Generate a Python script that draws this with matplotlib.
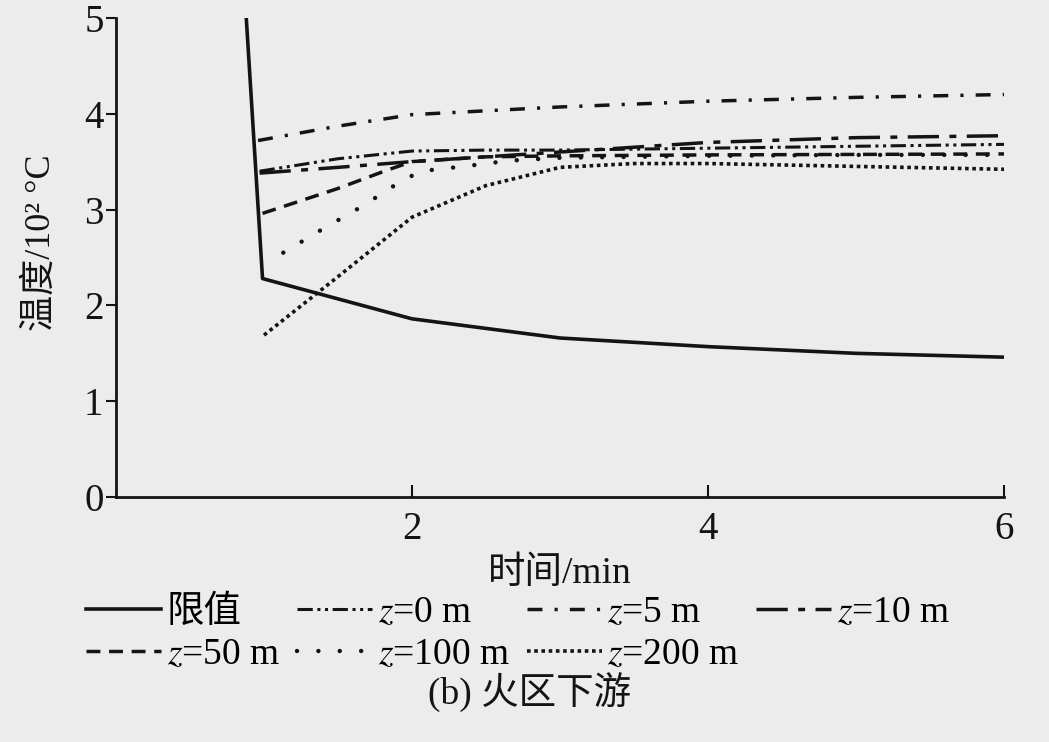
import matplotlib
matplotlib.use('Agg')
import matplotlib.pyplot as plt

plt.rcParams['font.family'] = ['Liberation Serif', 'Noto Sans CJK SC']
plt.rcParams['mathtext.fontset'] = 'stix'

# limit curve (限值)
limit_t = [0.88, 0.99, 2.0, 3.0, 4.0, 5.0, 6.0]
limit_T = [5.00, 2.28, 1.86, 1.66, 1.57, 1.50, 1.46]

# z = 0 m
z0_t = [0.97, 1.5, 2.0, 2.5, 3.0, 4.0, 5.0, 6.0]
z0_T = [3.40, 3.53, 3.61, 3.62, 3.62, 3.64, 3.66, 3.68]

# z = 5 m
z5_t = [0.96, 1.5, 2.0, 3.0, 4.0, 5.0, 6.0]
z5_T = [3.72, 3.87, 3.99, 4.07, 4.13, 4.17, 4.20]

# z = 10 m
z10_t = [0.97, 1.5, 2.0, 3.0, 4.0, 5.0, 6.0]
z10_T = [3.38, 3.44, 3.50, 3.60, 3.70, 3.75, 3.77]

# z = 50 m
z50_t = [0.99, 1.5, 1.83, 2.0, 2.5, 3.0, 4.0, 6.0]
z50_T = [2.96, 3.22, 3.41, 3.50, 3.55, 3.56, 3.57, 3.58]

# z = 100 m
z100_t = [1.13, 1.4, 1.67, 1.92, 2.06, 2.35, 2.66, 3.0, 4.0, 5.0, 6.0]
z100_T = [2.55, 2.80, 3.04, 3.29, 3.40, 3.45, 3.51, 3.54, 3.56, 3.57, 3.57]

# z = 200 m
z200_t = [1.0, 1.5, 2.0, 2.5, 3.0, 3.5, 4.0, 5.0, 6.0]
z200_T = [1.69, 2.30, 2.92, 3.25, 3.44, 3.48, 3.48, 3.45, 3.42]

ink = '#141414'
bg = '#ececec'

fig = plt.figure(figsize=(10.49, 7.42), dpi=100, facecolor=bg)
ax = fig.add_axes([0.1106, 0.330, 0.8465, 0.646])
ax.set_facecolor(bg)

h_lim, = ax.plot(limit_t, limit_T, color=ink, lw=2.6, label='限值')
h0, = ax.plot(z0_t, z0_T, color=ink, lw=2.2, dashes=(5, 1.5, 1, 1.5, 1, 1.5),
              label='$z$=0 m')
h5, = ax.plot(z5_t, z5_T, color=ink, lw=2.5, dashes=(4.3, 3.5, 0.9, 3.5),
              label='$z$=5 m')
h10, = ax.plot(z10_t, z10_T, color=ink, lw=2.5, dashes=(9, 3, 2, 3),
               label='$z$=10 m')
h50, = ax.plot(z50_t, z50_T, color=ink, lw=2.5, dashes=(4, 2.5),
               label='$z$=50 m')
h100, = ax.plot(z100_t, z100_T, color=ink, lw=3.2, dashes=(0.01, 4.8),
                dash_capstyle='round', label='$z$=100 m')
h200, = ax.plot(z200_t, z200_T, color=ink, lw=2.6, dashes=(1, 1),
                label='$z$=200 m')

ax.set_xlim(0, 6)
ax.set_ylim(0, 5)
ax.set_xticks([2, 4, 6])
ax.set_yticks(range(6))
for s in ['top', 'right']:
    ax.spines[s].set_visible(False)
for s in ['left', 'bottom']:
    ax.spines[s].set_linewidth(2)
    ax.spines[s].set_color(ink)
ax.tick_params(axis='x', direction='in', length=9, width=1.5, labelsize=28,
               pad=10, colors=ink)
ax.tick_params(axis='y', direction='out', length=7, width=1.5, labelsize=28,
               pad=2, colors=ink)

ax.set_xlabel('时间/min', fontsize=27, labelpad=6, color=ink)
ax.set_ylabel('温度/10² °C', fontsize=26, color=ink)
ax.yaxis.set_label_coords(-0.066, 0.53)

# column-major order so rows read: 限值, z=0, z=5, z=10 / z=50, z=100, z=200
handles = [h_lim, h50, h0, h100, h5, h200, h10]
fig.legend(handles=handles, loc='upper left', bbox_to_anchor=(0.068, 0.218),
           ncol=4, frameon=False, fontsize=27, handlelength=2.0,
           handletextpad=0.15, columnspacing=0.45, labelspacing=0.2,
           borderaxespad=0)

fig.text(0.505, 0.066, '(b) 火区下游', fontsize=27, ha='center', va='center',
         color=ink)

fig.savefig('out.png', dpi=100, facecolor=bg)
